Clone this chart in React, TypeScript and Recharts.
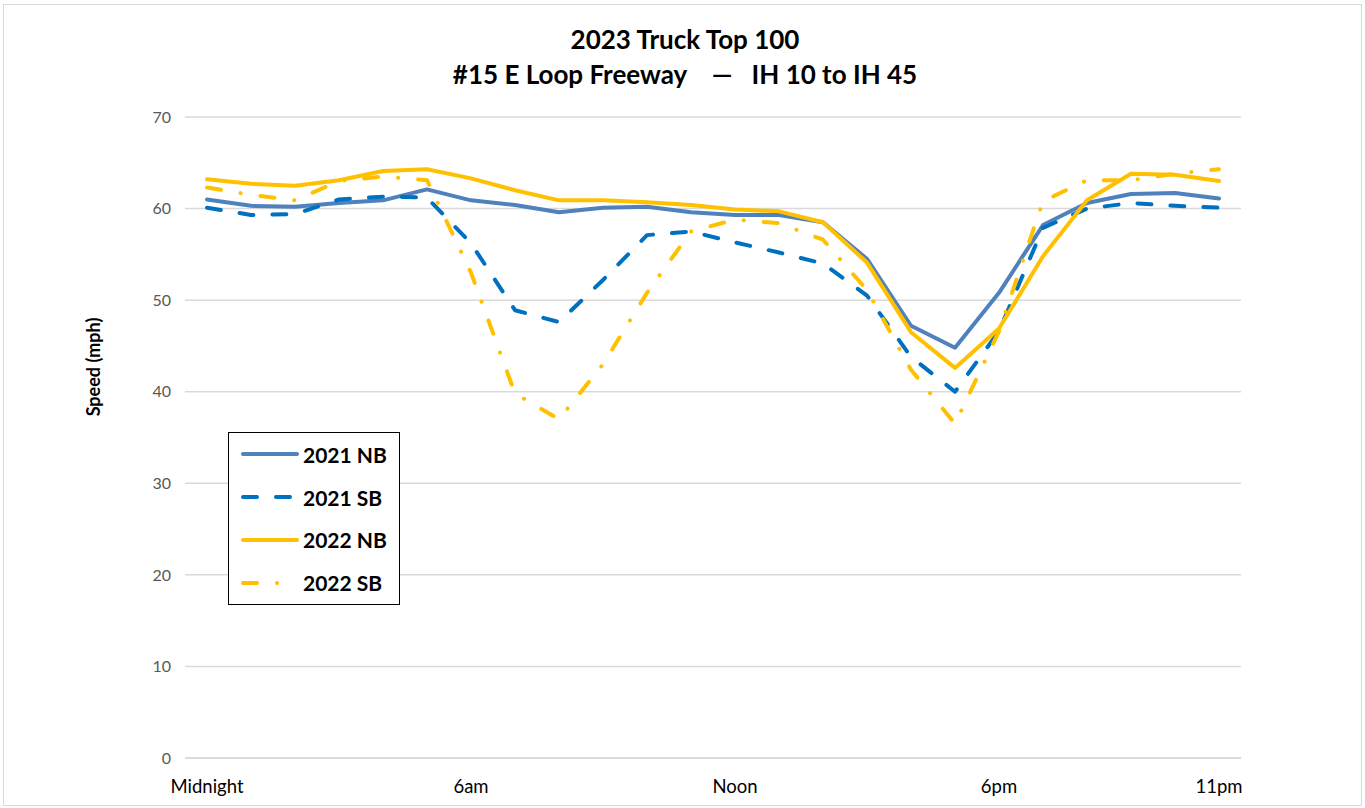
import React from 'react';
import { LineChart, Line, XAxis, YAxis, CartesianGrid, Legend } from 'recharts';

// hourly truck speeds (mph), midnight .. 11pm
const hours = Array.from({ length: 24 }, (_, i) => i);
const hourLabels: Record<number, string> = { 0: 'Midnight', 6: '6am', 12: 'Noon', 18: '6pm', 23: '11pm' };

const nb2021 = [61.0, 60.3, 60.2, 60.6, 60.9, 62.1, 60.9, 60.4, 59.6, 60.1, 60.2, 59.6, 59.3, 59.3, 58.5, 54.5, 47.2, 44.8, 50.8, 58.2, 60.6, 61.6, 61.7, 61.1];
const sb2021 = [60.1, 59.3, 59.4, 61.0, 61.3, 61.2, 56.2, 48.9, 47.6, 52.2, 57.1, 57.5, 56.3, 55.2, 54.0, 50.5, 43.8, 40.0, 46.6, 57.9, 60.0, 60.6, 60.3, 60.1];
const nb2022 = [63.2, 62.7, 62.5, 63.1, 64.1, 64.3, 63.3, 62.0, 60.9, 60.9, 60.7, 60.4, 59.9, 59.7, 58.5, 54.1, 46.5, 42.6, 46.9, 54.8, 60.9, 63.8, 63.7, 63.0];
const sb2022 = [62.3, 61.5, 60.9, 63.0, 63.5, 63.1, 53.0, 39.8, 37.0, 43.0, 50.8, 57.5, 58.8, 58.4, 56.6, 51.1, 42.4, 36.5, 46.6, 60.8, 63.1, 63.1, 63.8, 64.3];
const yTicks = [0, 10, 20, 30, 40, 50, 60, 70];

const series = [
  { key: 'nb2021', name: '2021 NB', color: '#4F81BD', dash: undefined },
  { key: 'sb2021', name: '2021 SB', color: '#0070C0', dash: '14 19' },
  { key: 'nb2022', name: '2022 NB', color: '#FFC000', dash: undefined },
  { key: 'sb2022', name: '2022 SB', color: '#FFC000', dash: '14 20 0.1 20' },
];

const data = hours.map((h, i) => ({
  hour: h,
  nb2021: nb2021[i],
  sb2021: sb2021[i],
  nb2022: nb2022[i],
  sb2022: sb2022[i],
}));

const font = 'Lato, "Open Sans", sans-serif';

function LegendBox() {
  return (
    <div
      style={{
        border: '1.5px solid #000',
        background: '#fff',
        width: 172,
        height: 173,
        boxSizing: 'border-box',
        padding: '0 0 0 12px',
        fontFamily: font,
        display: 'flex',
        flexDirection: 'column',
        justifyContent: 'space-around',
      }}
    >
      {series.map((s) => (
        <div key={s.key} style={{ display: 'flex', alignItems: 'center' }}>
          <svg width={60} height={10}>
            <line
              x1={2}
              y1={5}
              x2={56}
              y2={5}
              stroke={s.color}
              strokeWidth={4}
              strokeLinecap="round"
              strokeDasharray={s.dash}
            />
          </svg>
          <span style={{ fontWeight: 700, fontSize: 21, marginLeft: 2, color: '#000' }}>{s.name}</span>
        </div>
      ))}
    </div>
  );
}

export default function App() {
  return (
    <div style={{ position: 'absolute', left: 0, top: 0, width: 1365, height: 808, background: '#fff' }}>
      <div
        style={{
          position: 'absolute',
          left: 3,
          top: 4,
          width: 1359,
          height: 802,
          border: '1px solid #d9d9d9',
          boxSizing: 'border-box',
        }}
      />
      <div
        style={{
          position: 'absolute',
          left: 0,
          top: 22,
          width: 1370,
          textAlign: 'center',
          fontFamily: font,
          fontWeight: 700,
          fontSize: 26,
          lineHeight: '35px',
          color: '#000',
          whiteSpace: 'pre',
        }}
      >
        <div>2023 Truck Top 100</div>
        <div>{'#15 E Loop Freeway    —   IH 10 to IH 45'}</div>
      </div>
      <div
        style={{
          position: 'absolute',
          left: 93,
          top: 367,
          transform: 'translate(-50%, -50%) rotate(-90deg)',
          fontFamily: font,
          fontWeight: 700,
          fontSize: 18,
          whiteSpace: 'nowrap',
          color: '#000',
        }}
      >
        Speed (mph)
      </div>
      <div style={{ position: 'absolute', left: 0, top: 0 }}>
        <LineChart width={1365} height={808} data={data} margin={{ top: 117, right: 124, left: 125, bottom: 20 }}>
          <CartesianGrid vertical={false} stroke="#d9d9d9" strokeWidth={1.5} />
          <XAxis
            dataKey="hour"
            interval={0}
            height={30}
            padding={{ left: 22, right: 22 }}
            tickFormatter={(h: number) => hourLabels[h] ?? ''}
            axisLine={{ stroke: '#d9d9d9', strokeWidth: 1.5 }}
            tickLine={false}
            tickMargin={16}
            tick={{ fill: '#000', fontSize: 18.5, fontFamily: font }}
          />
          <YAxis
            width={60}
            domain={[0, 70]}
            ticks={yTicks}
            axisLine={false}
            tickLine={false}
            tickMargin={8}
            tick={{ fill: '#595959', fontSize: 16, fontFamily: font }}
          />
          <Legend
            layout="vertical"
            align="center"
            verticalAlign="middle"
            wrapperStyle={{ left: 228, top: 432, width: 'auto', position: 'absolute' }}
            content={() => <LegendBox />}
          />
          {series.map((s) => (
            <Line
              key={s.key}
              type="linear"
              dataKey={s.key}
              name={s.name}
              stroke={s.color}
              strokeWidth={4}
              strokeDasharray={s.dash}
              strokeLinecap="round"
              strokeLinejoin="round"
              dot={false}
              activeDot={false}
              isAnimationActive={false}
            />
          ))}
        </LineChart>
      </div>
    </div>
  );
}
